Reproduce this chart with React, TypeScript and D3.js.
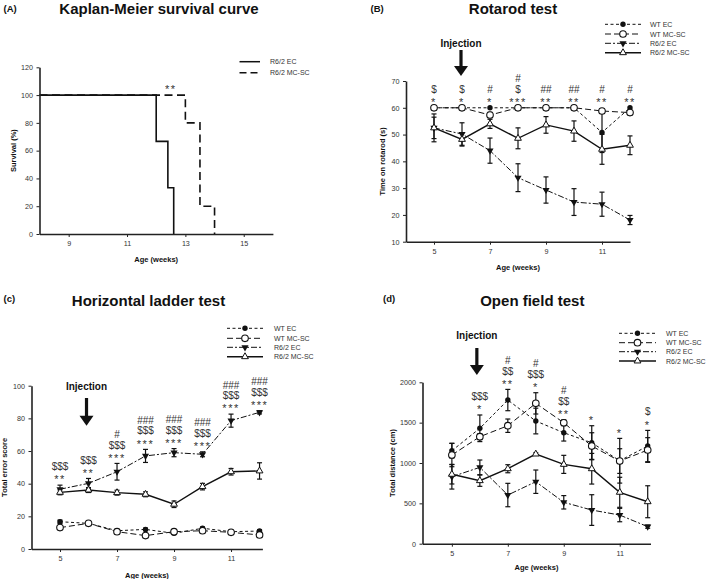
import React, { useEffect, useRef } from 'react';
import * as d3 from 'd3';

const FONT = "'Liberation Sans', Arial, Helvetica, sans-serif";

// ---------------- shared ----------------
const weeks = [5, 6, 7, 8, 9, 10, 11, 12];
const groupNames = ['WT EC', 'WT MC-SC', 'R6/2 EC', 'R6/2 MC-SC'];
const ageTicks = [5, 7, 9, 11];

// ---------------- (A) Kaplan-Meier ----------------
const kmGroups = ['R6/2 EC', 'R6/2 MC-SC'];
const kmEcAge = [8, 12, 12.4, 12.6];
const kmEcSurvival = [100, 66.7, 33.3, 0];
const kmMcAge = [8, 13, 13.5, 14];
const kmMcSurvival = [100, 80, 20, 0];
const kmXTicks = [9, 11, 13, 15];
const kmYTicks = [0, 20, 40, 60, 80, 100, 120];
const kmSignif = '**';

// ---------------- (B) Rotarod ----------------
const rotWtEc = [60, 60, 60, 60, 60, 60, 50.8, 60];
const rotWtEcErr = [0, 0, 0, 0, 0, 0, 7.5, 0];
const rotWtMc = [60, 60, 57.3, 60, 60, 60, 58.8, 58.2];
const rotWtMcErr = [0, 0, 1, 0, 0, 0, 0.8, 0.8];
const rotR6Ec = [52.5, 50.2, 44, 33.9, 29.3, 24.8, 24, 18.1];
const rotR6EcErr = [5.2, 4.2, 4.7, 5.2, 4.9, 5, 4.5, 1.7];
const rotR6Mc = [52.5, 48.2, 54, 48.6, 53.6, 51.3, 44.5, 46];
const rotR6McErr = [4, 2.5, 1.7, 3.9, 3.1, 3.8, 5.6, 3.5];
const rotYTicks = [10, 20, 30, 40, 50, 60, 70];
const rotAnnot = [['$', '*'], ['$', '*'], ['#', '*'], ['#', '$', '***'], ['##', '**'], ['##', '**'], ['#', '**'], ['#', '**']];

// ---------------- (C) Horizontal ladder ----------------
const ladWtEc = [16.7, 15.7, 11.2, 12, 9.6, 12.7, 10.6, 11];
const ladWtEcErr = [1, 0.8, 0.8, 0.8, 0.8, 0.8, 0.8, 0.8];
const ladWtMc = [13.1, 15.7, 10.6, 8.2, 10.6, 11.2, 10.2, 8.6];
const ladWtMcErr = [1, 1, 1, 1, 1, 1, 1, 1.5];
const ladR6Ec = [36.6, 40.2, 47.3, 57, 59, 58, 78.6, 83.7];
const ladR6EcErr = [2.5, 3, 5.1, 4, 2.5, 1.5, 4, 1];
const ladR6Mc = [34.7, 36.1, 34.5, 33.5, 27.4, 38.2, 47.3, 47.8];
const ladR6McErr = [1.5, 1.5, 1.5, 1.5, 2, 2, 2, 5];
const ladYTicks = [0, 20, 40, 60, 80, 100];
const ladAnnot = [['$$$', '**'], ['$$$', '**'], ['#', '$$$', '***'], ['###', '$$$', '***'], ['###', '$$$', '***'], ['###', '$$$', '***'], ['###', '$$$', '***'], ['###', '$$$', '***']];

// ---------------- (D) Open field ----------------
const ofWtEc = [1152, 1430, 1780, 1520, 1375, 1251, 1028, 1210];
const ofWtEcErr = [91, 165, 132, 159, 103, 211, 277, 194];
const ofWtMc = [1099, 1326, 1462, 1739, 1499, 1210, 1024, 1161];
const ofWtMcErr = [145, 37, 83, 132, 37, 165, 153, 153];
const ofR6Ec = [830, 946, 603, 768, 513, 417, 355, 211];
const ofR6EcErr = [153, 91, 145, 145, 83, 190, 83, 20];
const ofR6Mc = [860, 781, 929, 1111, 983, 929, 637, 520];
const ofR6McErr = [120, 70, 50, 15, 112, 190, 186, 198];
const ofYTicks = [0, 500, 1000, 1500, 2000];
const ofAnnot = [[], ['$$$', '*'], ['#', '$$', '**'], ['#', '$$$', '*'], ['#', '$$', '**'], ['*'], ['*'], ['$', '*']];

const injectionWeek = 6;

// ---------------- styles ----------------
type MarkerKind = 'filledCircle' | 'openCircle' | 'filledDown' | 'openUp';
const seriesStyle: { dash: string | null; marker: MarkerKind; width: number }[] = [
  { dash: '3,2.5', marker: 'filledCircle', width: 1 },
  { dash: '6,3', marker: 'openCircle', width: 1 },
  { dash: '6,2,2,2', marker: 'filledDown', width: 1 },
  { dash: null, marker: 'openUp', width: 1.4 },
];

const INK = '#111';

function Marker({ kind, x, y }: { kind: MarkerKind; x: number; y: number }) {
  if (kind === 'filledCircle') return <circle cx={x} cy={y} r={2.7} fill={INK} />;
  if (kind === 'openCircle') return <circle cx={x} cy={y} r={3.3} fill="#fff" stroke={INK} strokeWidth={1.1} />;
  if (kind === 'filledDown')
    return <path d={d3.symbol(d3.symbolTriangle, 22)() || ''} transform={`translate(${x},${y}) rotate(180)`} fill={INK} />;
  return <path d={d3.symbol(d3.symbolTriangle, 20)() || ''} transform={`translate(${x},${y})`} fill="#fff" stroke={INK} strokeWidth={1} />;
}

function Axis({ scale, orient, ticks, x = 0, y = 0 }: any) {
  const ref = useRef<SVGGElement>(null);
  useEffect(() => {
    const ax = (orient === 'bottom' ? d3.axisBottom(scale) : d3.axisLeft(scale))
      .tickValues(ticks)
      .tickSizeInner(3)
      .tickSizeOuter(0)
      .tickPadding(orient === 'bottom' ? 4 : 3.5)
      .tickFormat(d3.format('d') as any);
    const g = d3.select(ref.current as SVGGElement);
    g.call(ax as any);
    g.attr('font-size', 7.2).attr('font-family', FONT);
    g.select('.domain').attr('stroke', '#222').attr('stroke-width', 1.6);
    g.selectAll('.tick line').attr('stroke', '#222').attr('stroke-width', 1);
    g.selectAll('.tick text').attr('fill', '#333');
  });
  return <g ref={ref} transform={`translate(${x},${y})`} />;
}

function Arrow({ x, y0, y1 }: { x: number; y0: number; y1: number }) {
  const hh = 10;
  const hw = 7;
  return (
    <g>
      <line x1={x} x2={x} y1={y0} y2={y1 - hh + 1} stroke={INK} strokeWidth={3.2} />
      <polygon points={`${x - hw},${y1 - hh} ${x + hw},${y1 - hh} ${x},${y1}`} fill={INK} />
    </g>
  );
}

function AnnotText({ label, cx, cy }: { label: string; cx: number; cy: number }) {
  const star = label[0] === '*';
  const fs = star ? 11 : 10;
  const base = cy + (star ? 0.56 : 0.36) * fs;
  return (
    <text x={cx} y={base} textAnchor="middle" fontSize={fs} fill="#333" fontFamily={FONT} letterSpacing={star ? 1.5 : 0}>
      {label}
    </text>
  );
}

function LegendRows({ x0, x1, tx, rows }: { x0: number; x1: number; tx: number; rows: number[] }) {
  return (
    <g>
      {groupNames.map((name, i) => (
        <g key={name}>
          <line x1={x0} x2={x1} y1={rows[i]} y2={rows[i]} stroke={INK} strokeWidth={seriesStyle[i].width}
            strokeDasharray={seriesStyle[i].dash || undefined} />
          <Marker kind={seriesStyle[i].marker} x={(x0 + x1) / 2} y={rows[i]} />
          <text x={tx} y={rows[i] + 2.5} fontSize={7} fill="#333" fontFamily={FONT}>{name}</text>
        </g>
      ))}
    </g>
  );
}

type PanelCfg = {
  letter: string; letterX: number; letterY: number;
  title: string; titleX: number; titleY: number;
  left: number; right: number; top: number; bottom: number;
  xDomain: [number, number]; yDomain: [number, number]; yTicks: number[];
  ylabel: string; ylabelX: number; xlabelY: number;
  series: { values: number[]; errs: number[] }[];
  annot: string[][]; annotRow: boolean;
  legend: { x0: number; x1: number; tx: number; rows: number[] };
  inj: { ty: number; y0: number; y1: number; dx: number };
};

function LinePanel({ cfg }: { cfg: PanelCfg }) {
  const x = d3.scaleLinear().domain(cfg.xDomain).range([cfg.left, cfg.right]);
  const y = d3.scaleLinear().domain(cfg.yDomain).range([cfg.bottom, cfg.top]);
  const line = d3.line<number>().x((_, i) => x(weeks[i])).y((v) => y(v));
  const tops = weeks.map((_, i) => Math.max(...cfg.series.map((s) => s.values[i] + s.errs[i])));
  const globalTop = Math.max(...tops);
  const ix = x(injectionWeek) + cfg.inj.dx;
  return (
    <g>
      <text x={cfg.letterX} y={cfg.letterY} fontSize={9.5} fontWeight="bold" fontFamily={FONT} fill={INK}>{cfg.letter}</text>
      <text x={cfg.titleX} y={cfg.titleY} textAnchor="middle" fontSize={15} fontWeight="bold" fontFamily={FONT} fill={INK}>{cfg.title}</text>
      <LegendRows {...cfg.legend} />
      <text x={ix} y={cfg.inj.ty} textAnchor="middle" fontSize={10} fontWeight="bold" fontFamily={FONT} fill={INK}>Injection</text>
      <Arrow x={ix} y0={cfg.inj.y0} y1={cfg.inj.y1} />
      <Axis scale={y} orient="left" ticks={cfg.yTicks} x={cfg.left} />
      <Axis scale={x} orient="bottom" ticks={ageTicks} y={cfg.bottom} />
      <text x={(cfg.left + cfg.right) / 2} y={cfg.xlabelY} textAnchor="middle" fontSize={7.5} fontWeight="bold" fontFamily={FONT} fill={INK}>Age (weeks)</text>
      <text transform={`translate(${cfg.ylabelX},${(cfg.top + cfg.bottom) / 2}) rotate(-90)`} textAnchor="middle" fontSize={7.5} fontWeight="bold" fontFamily={FONT} fill={INK}>{cfg.ylabel}</text>
      {cfg.series.map((s, si) => (
        <path key={'l' + si} d={line(s.values) || ''} fill="none" stroke={INK} strokeWidth={seriesStyle[si].width}
          strokeDasharray={seriesStyle[si].dash || undefined} />
      ))}
      {cfg.series.map((s, si) => (
        <g key={'e' + si}>
          {s.values.map((v, i) => s.errs[i] > 0 ? (
            <g key={i}>
              <line x1={x(weeks[i])} x2={x(weeks[i])} y1={y(v - s.errs[i])} y2={y(v + s.errs[i])} stroke={INK} strokeWidth={1.2} />
              <line x1={x(weeks[i]) - 2.5} x2={x(weeks[i]) + 2.5} y1={y(v - s.errs[i])} y2={y(v - s.errs[i])} stroke={INK} strokeWidth={1.2} />
              <line x1={x(weeks[i]) - 2.5} x2={x(weeks[i]) + 2.5} y1={y(v + s.errs[i])} y2={y(v + s.errs[i])} stroke={INK} strokeWidth={1.2} />
            </g>
          ) : null)}
        </g>
      ))}
      {cfg.series.map((s, si) => (
        <g key={'m' + si}>
          {s.values.map((v, i) => <Marker key={i} kind={seriesStyle[si].marker} x={x(weeks[i])} y={y(v)} />)}
        </g>
      ))}
      <g opacity={0.995}>
        {cfg.annot.map((labels, i) => {
          const anchor = y(cfg.annotRow ? globalTop : tops[i]) - 8;
          const n = labels.length;
          return (
            <g key={'a' + i}>
              {labels.map((lab, j) => (
                <AnnotText key={j} label={lab} cx={x(weeks[i])} cy={anchor - (n - 1 - j) * 10.5} />
              ))}
            </g>
          );
        })}
      </g>
    </g>
  );
}

function KMPanel() {
  const left = 39.5, right = 272.9, top = 67.3, bottom = 234;
  const x = d3.scaleLinear().domain([8, 16]).range([left, right]);
  const y = d3.scaleLinear().domain([0, 120]).range([bottom, top]);
  const step = d3.line<[number, number]>().x((d) => x(d[0])).y((d) => y(d[1])).curve(d3.curveStepAfter);
  const ec = kmEcAge.map((a, i) => [a, kmEcSurvival[i]] as [number, number]);
  const mc = kmMcAge.map((a, i) => [a, kmMcSurvival[i]] as [number, number]);
  return (
    <g>
      <text x={3.5} y={11.5} fontSize={9.5} fontWeight="bold" fontFamily={FONT} fill={INK}>(A)</text>
      <text x={159} y={14} textAnchor="middle" fontSize={15} fontWeight="bold" fontFamily={FONT} fill={INK}>Kaplan-Meier survival curve</text>
      {kmGroups.map((g, i) => (
        <g key={g}>
          <line x1={239.5} x2={260} y1={61.7 + i * 11} y2={61.7 + i * 11} stroke={INK} strokeWidth={1.5} strokeDasharray={i === 1 ? '7,4' : undefined} />
          <text x={270} y={61.7 + i * 11 + 2.5} fontSize={7} fill="#333" fontFamily={FONT}>{g}</text>
        </g>
      ))}
      <path d={step(mc) || ''} fill="none" stroke={INK} strokeWidth={1.6} strokeDasharray="8,4.5" />
      <path d={step(ec) || ''} fill="none" stroke={INK} strokeWidth={1.6} />
      <Axis scale={y} orient="left" ticks={kmYTicks} x={left} />
      <Axis scale={x} orient="bottom" ticks={kmXTicks} y={bottom} />
      <text x={(left + right) / 2} y={261.5} textAnchor="middle" fontSize={7.5} fontWeight="bold" fontFamily={FONT} fill={INK}>Age (weeks)</text>
      <text transform={`translate(16,${(top + bottom) / 2}) rotate(-90)`} textAnchor="middle" fontSize={7.5} fontWeight="bold" fontFamily={FONT} fill={INK}>Survival (%)</text>
      <g opacity={0.995}>
        <AnnotText label={kmSignif} cx={x(12.5)} cy={87.3} />
      </g>
    </g>
  );
}

const mk = (v: number[], e: number[]) => ({ values: v, errs: e });

const rotCfg: PanelCfg = {
  letter: '(B)', letterX: 370.5, letterY: 11.5,
  title: 'Rotarod test', titleX: 513, titleY: 14,
  left: 406, right: 630, top: 81, bottom: 241.7,
  xDomain: [4, 12], yDomain: [10, 70], yTicks: rotYTicks,
  ylabel: 'Time on rotarod (s)', ylabelX: 385, xlabelY: 269.5,
  series: [mk(rotWtEc, rotWtEcErr), mk(rotWtMc, rotWtMcErr), mk(rotR6Ec, rotR6EcErr), mk(rotR6Mc, rotR6McErr)],
  annot: rotAnnot, annotRow: true,
  legend: { x0: 605, x1: 641, tx: 650, rows: [24.3, 34, 43.3, 52.7] },
  inj: { ty: 46.6, y0: 50, y1: 76, dx: -1 },
};

const ladCfg: PanelCfg = {
  letter: '(c)', letterX: 3.5, letterY: 301.5,
  title: 'Horizontal ladder test', titleX: 148.5, titleY: 306,
  left: 31.5, right: 262.4, top: 385.7, bottom: 549,
  xDomain: [4, 12.1], yDomain: [0, 100], yTicks: ladYTicks,
  ylabel: 'Total error score', ylabelX: 7.3, xlabelY: 577.5,
  series: [mk(ladWtEc, ladWtEcErr), mk(ladWtMc, ladWtMcErr), mk(ladR6Ec, ladR6EcErr), mk(ladR6Mc, ladR6McErr)],
  annot: ladAnnot, annotRow: false,
  legend: { x0: 227, x1: 263, tx: 274, rows: [328.3, 338.3, 347.3, 356.7] },
  inj: { ty: 390.3, y0: 398, y1: 425.7, dx: -2 },
};

const ofCfg: PanelCfg = {
  letter: '(d)', letterX: 383, letterY: 301.5,
  title: 'Open field test', titleX: 532.3, titleY: 306,
  left: 422.5, right: 650.5, top: 382.3, bottom: 543.7,
  xDomain: [3.95, 12.1], yDomain: [0, 2000], yTicks: ofYTicks,
  ylabel: 'Total distance (cm)', ylabelX: 394.7, xlabelY: 570,
  series: [mk(ofWtEc, ofWtEcErr), mk(ofWtMc, ofWtMcErr), mk(ofR6Ec, ofR6EcErr), mk(ofR6Mc, ofR6McErr)],
  annot: ofAnnot, annotRow: false,
  legend: { x0: 619, x1: 656, tx: 666, rows: [333.3, 342.7, 351.7, 361] },
  inj: { ty: 338.6, y0: 348, y1: 375, dx: -3 },
};

export default function App() {
  return (
    <svg width={709} height={579} viewBox="0 0 709 579" style={{ position: 'absolute', left: 0, top: 0, display: 'block' }}
      fontFamily={FONT}>
      <rect x={0} y={0} width={709} height={579} fill="#fff" />
      <KMPanel />
      <LinePanel cfg={rotCfg} />
      <LinePanel cfg={ladCfg} />
      <LinePanel cfg={ofCfg} />
    </svg>
  );
}
